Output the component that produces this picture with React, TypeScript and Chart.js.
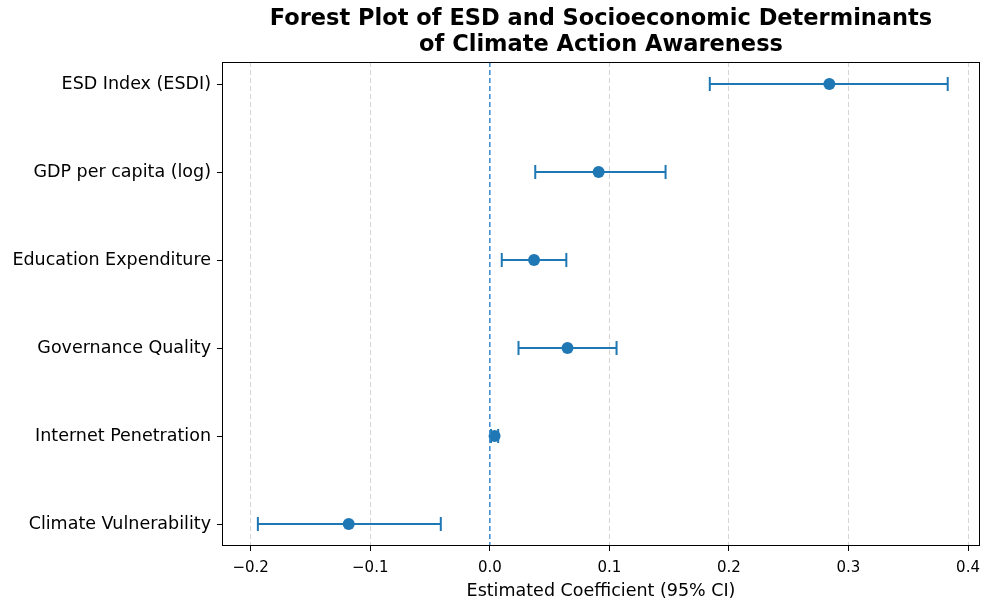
import React, { useEffect, useRef } from "react";
import { Chart, registerables } from "chart.js";

Chart.register(...registerables);

const categories = [
  "ESD Index (ESDI)",
  "GDP per capita (log)",
  "Education Expenditure",
  "Governance Quality",
  "Internet Penetration",
  "Climate Vulnerability",
];
const estimates = [0.284, 0.091, 0.037, 0.065, 0.004, -0.118];
const lowerCI = [0.184, 0.038, 0.010, 0.024, 0.001, -0.194];
const upperCI = [0.383, 0.147, 0.064, 0.106, 0.007, -0.041];
const xTicks = [-0.2, -0.1, 0.0, 0.1, 0.2, 0.3, 0.4];
const xRange = [-0.224, 0.41];
const yRange = [-0.25, 5.25];

const BLUE = "#1f77b4";
const FONT = "'DejaVu Sans', sans-serif";

const frame = {
  id: "frame",
  afterDraw(chart: any) {
    const { ctx, chartArea: a } = chart;
    ctx.save();
    ctx.strokeStyle = "#000";
    ctx.lineWidth = 1;
    const l = Math.round(a.left) + 0.5;
    const t = Math.round(a.top) + 0.5;
    const r = Math.round(a.right) - 0.5;
    const b = Math.round(a.bottom) - 0.5;
    ctx.strokeRect(l, t, r - l, b - t);
    ctx.restore();
  },
};

export default function App() {
  const ref = useRef<HTMLCanvasElement>(null);
  useEffect(() => {
    if (!ref.current) return;
    const datasets: any[] = [];
    datasets.push({
      data: [
        { x: 0, y: yRange[0] },
        { x: 0, y: yRange[1] },
      ],
      showLine: true,
      borderColor: "#3a8ccf",
      borderWidth: 1.5,
      borderDash: [5, 3],
      pointRadius: 0,
    });
    categories.forEach((_, i) => {
      datasets.push({
        data: [
          { x: lowerCI[i], y: i },
          { x: upperCI[i], y: i },
        ],
        showLine: true,
        borderColor: BLUE,
        borderWidth: 2,
        pointStyle: "line",
        pointRotation: 90,
        pointRadius: 7,
        pointBorderWidth: 2,
        pointBorderColor: BLUE,
        pointHoverRadius: 7,
      });
    });
    datasets.push({
      data: estimates.map((v, i) => ({ x: v, y: i })),
      showLine: false,
      pointRadius: 6,
      pointBackgroundColor: BLUE,
      pointBorderColor: BLUE,
      pointBorderWidth: 0,
    });

    const chart = new Chart(ref.current, {
      type: "scatter",
      data: { datasets },
      plugins: [frame],
      options: {
        animation: false,
        responsive: false,
        layout: { autoPadding: false, padding: { left: 0, right: 2, top: 0, bottom: 0 } },
        plugins: {
          legend: { display: false },
          tooltip: { enabled: false },
          title: {
            display: true,
            fullSize: false,
            text: [
              "Forest Plot of ESD and Socioeconomic Determinants",
              "of Climate Action Awareness",
            ],
            color: "#000",
            font: { family: FONT, size: 22.5, weight: "bold", lineHeight: 26 / 22.5 },
            padding: { top: 6, bottom: 4 },
          },
        },
        scales: {
          x: {
            type: "linear",
            min: xRange[0],
            max: xRange[1],
            afterBuildTicks: (s: any) => {
              s.ticks = xTicks.map((v) => ({ value: v }));
            },
            afterFit: (s: any) => {
              s.height = 56;
              s.paddingLeft = 0;
              s.paddingRight = 0;
            },
            ticks: {
              color: "#000",
              font: { family: FONT, size: 15 },
              padding: 8,
              maxRotation: 0,
              callback: (v: any) =>
                v < 0 ? "\u2212" + Math.abs(v).toFixed(1) : Math.abs(v).toFixed(1),
            },
            grid: {
              display: true,
              drawOnChartArea: true,
              color: "#d4d4d4",
              lineWidth: 1,
              tickLength: 5,
              tickColor: "#000",
              tickBorderDash: [],
            },
            border: { display: false, dash: [5, 3] },
            title: {
              display: true,
              text: "Estimated Coefficient (95% CI)",
              color: "#000",
              font: { family: FONT, size: 17.5, lineHeight: 1.2 },
              padding: { top: 0, bottom: 0.5 },
            },
          },
          y: {
            type: "linear",
            min: yRange[0],
            max: yRange[1],
            reverse: true,
            afterBuildTicks: (s: any) => {
              s.ticks = categories.map((_, i) => ({ value: i }));
            },
            afterFit: (s: any) => {
              s.width = 222;
              s.paddingTop = 0;
              s.paddingBottom = 0;
            },
            ticks: {
              color: "#000",
              font: { family: FONT, size: 17.5 },
              padding: 6,
              callback: (v: any) => categories[Math.round(v)] ?? "",
            },
            grid: {
              display: true,
              drawOnChartArea: false,
              drawTicks: true,
              tickLength: 5,
              tickColor: "#000",
              tickBorderDash: [],
            },
            border: { display: false },
          },
        },
      },
    });
    return () => chart.destroy();
  }, []);

  return (
    <div style={{ position: "fixed", left: 0, top: 0, width: 982, height: 602, background: "#fff" }}>
      <canvas ref={ref} width={982} height={602} />
    </div>
  );
}
